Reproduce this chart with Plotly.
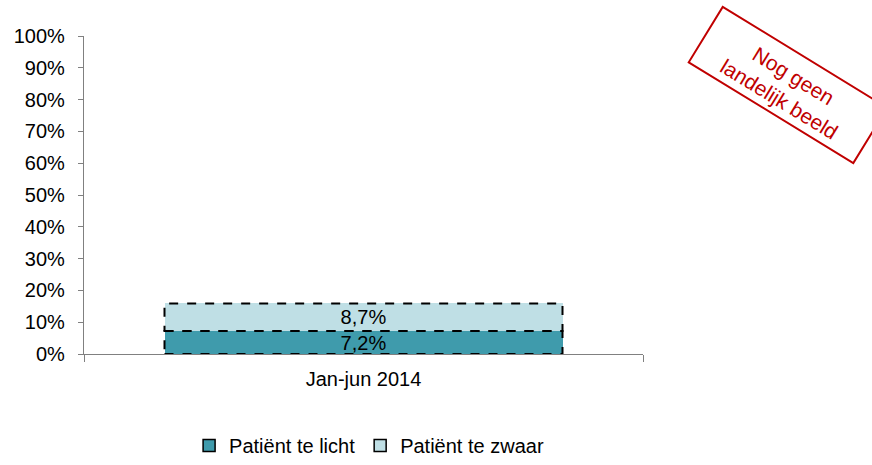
import math
import plotly.graph_objects as go

# Data
periods = ["Jan-jun 2014"]
series_names = ["Patiënt te licht", "Patiënt te zwaar"]
te_licht = [7.2]
te_zwaar = [8.7]
y_ticks = list(range(0, 101, 10))

colors = ["#3F9BAC", "#BFDFE5"]
FONT = "Liberation Sans, Arial, sans-serif"
FS = 20
BARGAP = 0.288

# Plot area in pixels (872 x 465 canvas)
L, R, T, B = 84, 643, 36, 354
W, H = 872, 465


def px_to_paper(px, py):
    return (px - L) / (R - L), (B - py) / (B - T)


def pct(v):
    return f"{v:.1f}".replace(".", ",") + "%"


fig = go.Figure()

series = [te_licht, te_zwaar]
for name, vals, col in zip(series_names, series, colors):
    fig.add_trace(go.Bar(
        x=periods, y=vals, name=name, showlegend=False,
        marker=dict(color=col, line=dict(width=0)),
        text=[pct(v) for v in vals], textposition="inside",
        insidetextanchor="middle", constraintext="none",
        textfont=dict(family=FONT, size=FS, color="black"),
        hoverinfo="skip",
    ))
    # legend entry with outlined swatch
    fig.add_trace(go.Bar(
        x=periods, y=[None], name=name, showlegend=True,
        marker=dict(color=col, line=dict(color="black", width=1.5)),
        hoverinfo="skip",
    ))

# Dashed outlines around the stacked segments
half = (1 - BARGAP) / 2
base = 0.0
for vals in series:
    for i, v in enumerate(vals):
        fig.add_shape(type="rect", xref="x", yref="y",
                      x0=i - half, x1=i + half, y0=base, y1=base + v,
                      line=dict(color="black", width=2, dash="dash"),
                      layer="above")
    base += vals[0]

# "Nog geen landelijk beeld" stamp
cx, cy = 788, 85
ang = math.radians(31.5)
lw, lh = 193, 65
corners = []
for sx, sy in [(-1, -1), (1, -1), (1, 1), (-1, 1)]:
    dx, dy = sx * lw / 2, sy * lh / 2
    px = cx + dx * math.cos(ang) - dy * math.sin(ang)
    py = cy + dx * math.sin(ang) + dy * math.cos(ang)
    corners.append(px_to_paper(px, py))
path = "M " + " L ".join(f"{x:.4f},{y:.4f}" for x, y in corners) + " Z"
fig.add_shape(type="path", xref="paper", yref="paper", path=path,
              line=dict(color="#C00000", width=2), layer="above")
ax, ay = px_to_paper(cx - 2, cy + 2)
fig.add_annotation(xref="paper", yref="paper", x=ax, y=ay,
                   text="Nog geen<br>landelijk beeld", showarrow=False,
                   textangle=31.5, xanchor="center", yanchor="middle",
                   font=dict(family=FONT, size=21, color="#C00000"))

fig.update_layout(
    width=W, height=H,
    margin=dict(l=L, r=W - R, t=T, b=H - B, pad=0, autoexpand=False),
    barmode="stack", bargap=BARGAP,
    plot_bgcolor="white", paper_bgcolor="white",
    font=dict(family=FONT, size=FS, color="black"),
    legend=dict(orientation="h", x=0.51, xanchor="center",
                yref="container", y=-0.016, yanchor="bottom",
                traceorder="normal", font=dict(family=FONT, size=FS),
                itemwidth=30),
    xaxis=dict(type="category", showline=True, linecolor="#808080",
               linewidth=1.3, ticks="outside", tickson="boundaries",
               ticklen=7, tickcolor="#808080", showgrid=False,
               ticklabelstandoff=7, tickfont=dict(size=FS)),
    yaxis=dict(range=[0, 100], tickvals=y_ticks,
               ticktext=[f"{t}%" for t in y_ticks], showline=True,
               linecolor="#808080", linewidth=1.3, ticks="outside",
               ticklen=5, tickcolor="#808080", showgrid=False,
               zeroline=False, ticklabelstandoff=9,
               tickfont=dict(size=FS)),
)

fig.write_html("out.html")
